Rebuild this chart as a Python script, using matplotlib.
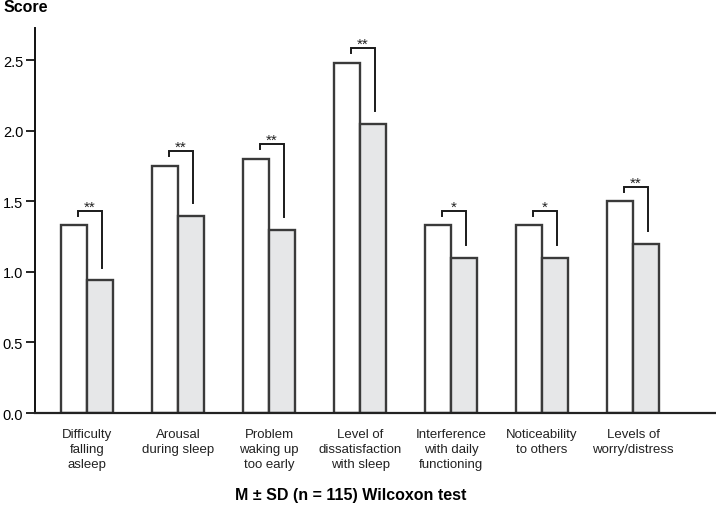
import matplotlib
matplotlib.use("Agg")
import matplotlib.pyplot as plt
import numpy as np

# data
categories = [
    "Difficulty\nfalling\nasleep",
    "Arousal\nduring sleep",
    "Problem\nwaking up\ntoo early",
    "Level of\ndissatisfaction\nwith sleep",
    "Interference\nwith daily\nfunctioning",
    "Noticeability\nto others",
    "Levels of\nworry/distress",
]
before = [1.33, 1.75, 1.80, 2.48, 1.33, 1.33, 1.50]
after = [0.94, 1.40, 1.30, 2.05, 1.10, 1.10, 1.20]
stars = ["**", "**", "**", "**", "*", "*", "**"]
yticks = [0.0, 0.5, 1.0, 1.5, 2.0, 2.5]

plt.rcParams["font.family"] = ["Liberation Sans", "DejaVu Sans"]

fig = plt.figure(figsize=(7.16, 5.06), dpi=100)
ax = fig.add_axes([35 / 716, 1 - 414 / 506, 1 - 35 / 716, (414 - 29) / 506])

x = np.arange(len(categories))
w = 0.286
edge = "#3a3a3a"
ax.bar(x - w / 2, before, width=w, color="white", edgecolor=edge, linewidth=1.7)
ax.bar(x + w / 2, after, width=w, color="#e6e7e8", edgecolor=edge, linewidth=1.7)

# significance brackets
for i in range(len(categories)):
    top = before[i] + 0.105
    xl = x[i] - w / 2 + 0.04
    xr = x[i] + w / 2 + 0.02
    ax.plot([xl, xl, xr, xr], [before[i] + 0.07, top, top, after[i] + 0.09],
            color="#1a1a1a", linewidth=1.4, solid_joinstyle="miter")
    ax.text((xl + xr) / 2, top + 0.03, stars[i], ha="center", va="center",
            fontsize=11, color="#222222")

ax.set_xlim(-0.57, 6.91)
ax.set_ylim(0, 2.73)
ax.set_yticks(yticks)
ax.set_yticklabels([f"{t:.1f}" for t in yticks], fontsize=10.5)
ax.set_xticks(x)
ax.set_xticklabels(categories, fontsize=9.5, color="#222222", linespacing=1.3)
ax.tick_params(axis="x", length=0, pad=11)
ax.tick_params(axis="y", length=6.5, width=1.2, direction="out", pad=2)

for s in ["top", "right"]:
    ax.spines[s].set_visible(False)
ax.spines["left"].set_linewidth(1.4)
ax.spines["bottom"].set_linewidth(1.6)
ax.spines["left"].set_color("#111111")
ax.spines["bottom"].set_color("#222222")

fig.text(4 / 716, 1 - 8 / 506, "Score", fontsize=11.5, fontweight="bold",
         ha="left", va="center")
fig.text(351 / 716, 1 - 496 / 506, "M \u00b1 SD (n = 115) Wilcoxon test",
         fontsize=11.5, fontweight="bold", ha="center", va="center")

fig.savefig("out.png", dpi=100)
